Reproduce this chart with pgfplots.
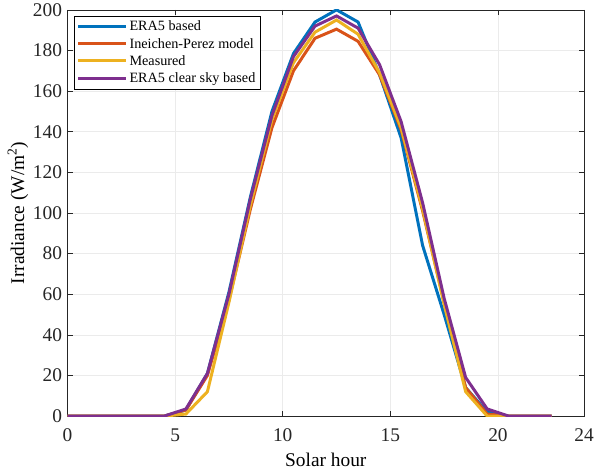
\documentclass[border=0pt]{standalone}
\usepackage{pgfplots}
\pgfplotsset{compat=1.18}
\usepackage{fontspec}
\setmainfont{Liberation Serif}
\definecolor{mblue}{rgb}{0,0.447,0.741}
\definecolor{morange}{rgb}{0.85,0.325,0.098}
\definecolor{myellow}{rgb}{0.929,0.694,0.125}
\definecolor{mpurple}{rgb}{0.494,0.184,0.556}
\definecolor{axgray}{rgb}{0.15,0.15,0.15}
\begin{document}
\begin{tikzpicture}
\begin{axis}[
  scale only axis,
  width=520pt, height=409pt,
  xmin=0, xmax=24, ymin=0, ymax=200,
  xtick={0,5,10,15,20,24},
  ytick={0,20,...,200},
  grid=major,
  major grid style={color=black!8, line width=0.6pt},
  axis line style={color=axgray, line width=0.6pt},
  tick style={color=axgray, line width=0.6pt},
  tick align=inside,
  major tick length=5pt,
  xticklabel style={yshift=-9pt},
  yticklabel style={xshift=-2pt},
  every tick label/.append style={font=\fontsize{19.5}{22}\selectfont, color=black!85},
  /pgf/number format/assume math mode=true,
  xlabel={Solar hour},
  ylabel={Irradiance (W/m\textsuperscript{2})},
  label style={font=\fontsize{19.5}{22}\selectfont},
  xlabel style={yshift=-5pt},
  ylabel style={yshift=-2pt},
  legend style={at={(0.012,0.985)}, anchor=north west, draw=black,
    font=\fontsize{14.3}{16}\selectfont, cells={anchor=west}, row sep=1.8pt,
    inner xsep=3pt, inner ysep=3pt},
  legend image code/.code={\draw[#1, line width=3pt] (0pt,0pt) -- (48pt,0pt);},
  every axis plot/.append style={line width=3pt},
]
\addplot[mblue, line width=3pt] coordinates {(0,0)(0.5,0)(1.5,0)(2.5,0)(3.5,0)(4.5,0)(5.5,3)(6.5,21)(7.5,61)(8.5,108)(9.5,150)(10.5,178.5)(11.5,194)(12.5,200)(13.5,194)(14.5,168)(15.5,137)(16.5,84)(17.5,50)(18.5,14)(19.5,2)(20.5,0)(21.5,0)(22.5,0)};
\addplot[morange, line width=3pt] coordinates {(0,0)(0.5,0)(1.5,0)(2.5,0)(3.5,0)(4.5,0)(5.5,3)(6.5,20)(7.5,57)(8.5,102)(9.5,142)(10.5,170)(11.5,186)(12.5,190.5)(13.5,184.5)(14.5,168)(15.5,141)(16.5,101)(17.5,56)(18.5,14)(19.5,1)(20.5,0)(21.5,0)(22.5,0)};
\addplot[myellow, line width=3pt] coordinates {(0,0)(0.5,0)(1.5,0)(2.5,0)(3.5,0)(4.5,0)(5.5,1)(6.5,12)(7.5,56)(8.5,104)(9.5,146)(10.5,174)(11.5,189)(12.5,195)(13.5,188)(14.5,169)(15.5,142)(16.5,102)(17.5,55)(18.5,12)(19.5,0)(20.5,0)(21.5,0)(22.5,0)};
\addplot[mpurple, line width=3pt] coordinates {(0,0)(0.5,0)(1.5,0)(2.5,0)(3.5,0)(4.5,0)(5.5,3.5)(6.5,21)(7.5,60)(8.5,107)(9.5,148)(10.5,177)(11.5,192)(12.5,197)(13.5,191)(14.5,173)(15.5,145)(16.5,105)(17.5,58)(18.5,19)(19.5,3.5)(20.5,0)(21.5,0)(22.5,0)};
\legend{ERA5 based, Ineichen-Perez model, Measured, ERA5 clear sky based}
\end{axis}
\path (current axis.south west) ++(-68pt,-55pt) (current axis.north east) ++(9pt,8pt);
\end{tikzpicture}
\end{document}
